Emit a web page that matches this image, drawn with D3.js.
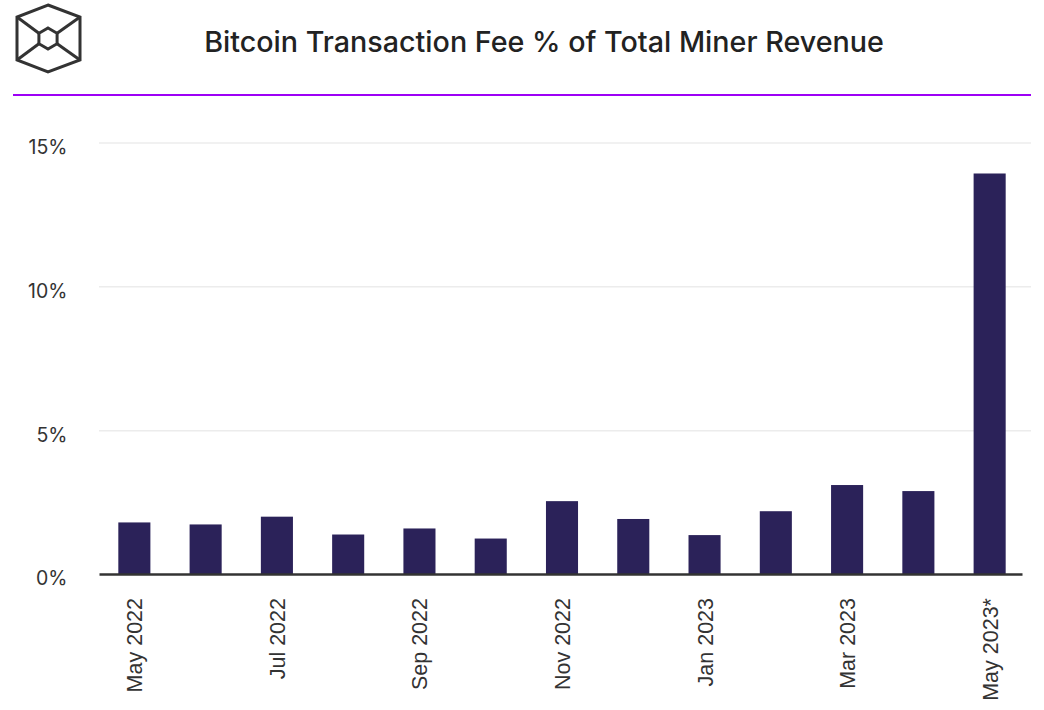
<!DOCTYPE html>
<html><head><meta charset="utf-8">
<script src="https://cdn.jsdelivr.net/npm/d3@7"></script>
<style>
html,body{margin:0;padding:0;background:#fff;}
svg{display:block;}
</style></head>
<body>
<svg id="chart" width="1044" height="710"></svg>
<script>
const months = ["May 2022","Jun 2022","Jul 2022","Aug 2022","Sep 2022","Oct 2022","Nov 2022","Dec 2022","Jan 2023","Feb 2023","Mar 2023","Apr 2023","May 2023*"];
const feePct = [1.81,1.74,2.01,1.39,1.60,1.25,2.55,1.93,1.37,2.20,3.11,2.90,13.94];
const shownLabels = ["May 2022","Jul 2022","Sep 2022","Nov 2022","Jan 2023","Mar 2023","May 2023*"];
const yTicks = [0,5,10,15];
const title = "Bitcoin Transaction Fee % of Total Miner Revenue";

const svg = d3.select("#chart");

// logo
const logo = svg.append("g").attr("fill","none").attr("stroke","#333").attr("stroke-width",3).attr("stroke-linejoin","miter");
const cx=48, cy=38.5;
const outer = [[48,5],[80,17],[80,60],[48,72],[17,60],[17,17]];
logo.append("path").attr("d", d3.line()(outer)+"Z");
const r=10.5;
const inner = d3.range(6).map(i=>{const a=Math.PI/180*(60*i-90);return [cx+r*Math.cos(a), cy+r*Math.sin(a)];});
logo.append("path").attr("d", d3.line()(inner)+"Z");
logo.append("path").attr("d", d3.line()([[17,17],inner[5]]));
logo.append("path").attr("d", d3.line()([[80,17],inner[1]]));
logo.append("path").attr("d", d3.line()([[17,60],inner[4]]));
logo.append("path").attr("d", d3.line()([[80,60],inner[2]]));

svg.append("text").attr("x",544).attr("y",52).attr("text-anchor","middle")
  .attr("font-family","Inter, 'Open Sans', sans-serif").attr("font-size",28.7).attr("font-weight",500).attr("fill","#222")
  .text(title);

svg.append("line").attr("x1",13).attr("x2",1031).attr("y1",95).attr("y2",95)
  .attr("stroke","#9d00f5").attr("stroke-width",2);

const x = d3.scaleBand().domain(months).range([100.5,1023.5]).paddingInner(0.55).paddingOuter(0.25);
const y = d3.scaleLinear().domain([0,15]).range([574.5,143]);

// grid
svg.append("g").selectAll("line").data(yTicks.filter(d=>d>0)).join("line")
  .attr("x1",99).attr("x2",1031).attr("y1",d=>y(d)).attr("y2",d=>y(d))
  .attr("stroke","#ececec").attr("stroke-width",1.5);

// y axis
const yAxis = svg.append("g").attr("transform","translate(99,0)")
  .call(d3.axisLeft(y).tickValues(yTicks).tickSize(0).tickPadding(31.5).tickFormat(d=>d+"%"));
yAxis.select(".domain").remove();
yAxis.selectAll("text").attr("font-family","Inter, 'Open Sans', sans-serif").attr("font-size",19.5).attr("fill","#333").attr("dy","0.53em");

// bars
svg.append("g").selectAll("rect").data(feePct).join("rect")
  .attr("x",(d,i)=>x(months[i])).attr("width",x.bandwidth())
  .attr("y",d=>y(d)).attr("height",d=>y(0)-y(d))
  .attr("fill","#2b2259");

// x axis
const xAxis = svg.append("g").attr("transform",`translate(0,${y(0)})`)
  .call(d3.axisBottom(x).tickValues(shownLabels).tickSize(0).tickPadding(0));
xAxis.select(".domain").attr("stroke","#333").attr("stroke-width",2.5).attr("d","M99.5,0H1022.5");
xAxis.selectAll("text")
  .attr("font-family","'Liberation Sans', Arial, sans-serif").attr("font-size",21.5).attr("fill","#333")
  .attr("text-anchor","end").attr("dy",0)
  .attr("transform","translate(8,23.5) rotate(-90)");
</script>
</body></html>
